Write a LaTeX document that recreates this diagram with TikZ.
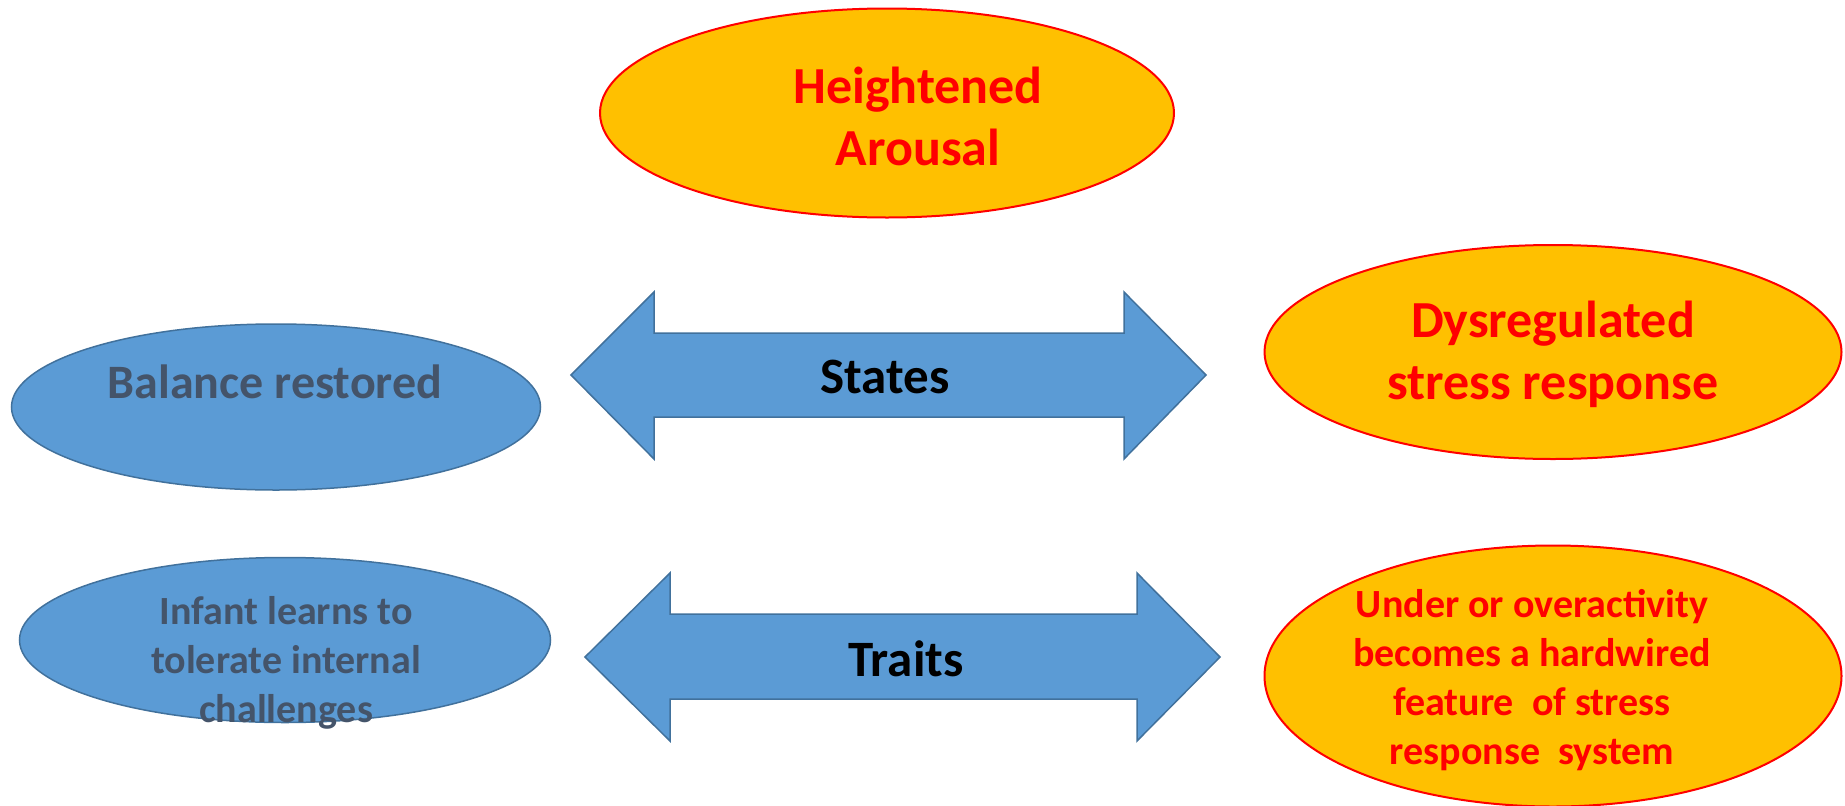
\documentclass[tikz,border=0pt]{standalone}
\usepackage{fontspec}
\setmainfont{Carlito}
\usetikzlibrary{shapes.geometric}
\definecolor{warmorange}{HTML}{FFC000}
\definecolor{calmblue}{HTML}{5B9BD5}
\definecolor{blueedge}{HTML}{41719C}
\definecolor{slatetext}{HTML}{44546A}
\tikzset{
	hotoval/.style={ellipse,draw=red,line width=2pt,fill=warmorange,inner sep=0pt},
	calmoval/.style={ellipse,draw=blueedge,line width=1.5pt,fill=calmblue,inner sep=0pt},
	twoway/.style={draw=blueedge,line width=1.5pt,fill=calmblue,line join=miter},
	hottext/.style={text=red,align=center,font=\bfseries\fontsize{52}{62}\selectfont},
	smalltext/.style={align=center,font=\bfseries\fontsize{40}{49}\selectfont},
	calmtext/.style={text=slatetext,align=center,font=\bfseries\fontsize{48}{58}\selectfont},
}

\begin{document}
\begin{tikzpicture}[x=1pt,y=-1pt]
	\useasboundingbox (0,0) rectangle (1845,806);

	% ovals
	\node[hotoval,minimum width=574pt,minimum height=209pt] (arousal) at (887,113) {};
	\node[calmoval,minimum width=529pt,minimum height=166pt] (balance) at (276,407) {};
	\node[hotoval,minimum width=577pt,minimum height=214pt] (dysreg) at (1553,352) {};
	\node[calmoval,minimum width=531pt,minimum height=165pt] (infant) at (285,640) {};
	\node[hotoval,minimum width=577pt,minimum height=261pt] (wired) at (1553,676) {};

	\node[hottext] (arousaltext) at (918,116) {Heightened\\Arousal};
	\node[calmtext] (balancetext) at (275,382) {Balance restored};
	\node[hottext] (dysregtext) at (1553,354) {Dysregulated\\stress response};
	\node[smalltext,text=slatetext] (infanttext) at (286,663) {Infant learns to\\tolerate internal\\challenges};
	\node[smalltext,text=red] (wiredtext) at (1532,680) {Under or overactivity\\becomes a hardwired\\feature~ of stress\\response~ system};

	% two-way arrows
	\draw[twoway] (571,375) -- (654,292) -- (654,333) -- (1124,333) -- (1124,292) -- (1206,375)
		-- (1124,459) -- (1124,417) -- (654,417) -- (654,459) -- cycle;
	\node[font=\bfseries\fontsize{51}{61}\selectfont] (states) at (885,377) {States};

	\draw[twoway] (585,657) -- (670,573) -- (670,614) -- (1137,614) -- (1137,573) -- (1220,657)
		-- (1137,741) -- (1137,699) -- (670,699) -- (670,741) -- cycle;
	\node[font=\bfseries\fontsize{51}{61}\selectfont] (traits) at (906,659) {Traits};
\end{tikzpicture}
\end{document}
